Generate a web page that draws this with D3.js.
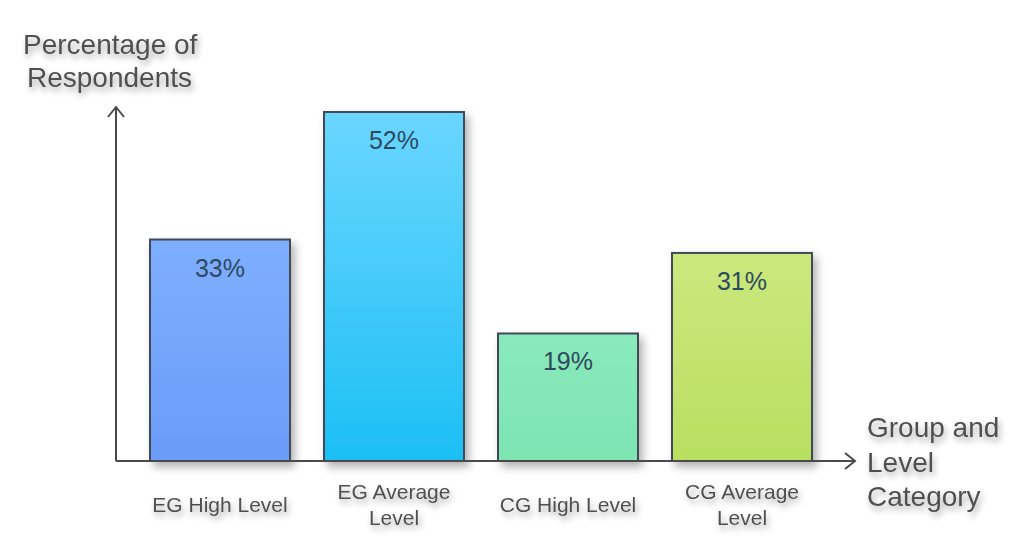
<!DOCTYPE html>
<html><head><meta charset="utf-8">
<script src="https://cdn.jsdelivr.net/npm/d3@7"></script>
<style>html,body{margin:0;padding:0;background:#fff;}svg{display:block;}</style>
</head><body>
<svg id="c" width="1014" height="537"></svg>
<script>
const categories = [["EG High Level"], ["EG Average", "Level"], ["CG High Level"], ["CG Average", "Level"]];
const values = [33, 52, 19, 31];
const valueLabels = ["33%", "52%", "19%", "31%"];
const yTitle = ["Percentage of", "Respondents"];
const xTitle = ["Group and", "Level", "Category"];
const colorTop = ["#7eaeff", "#6ad6ff", "#8aeabc", "#cbe87e"];
const colorBottom = ["#6a9cf8", "#1cbff4", "#7de4b2", "#b9df60"];

const svg = d3.select("#c");
const defs = svg.append("defs");
const sh = defs.append("filter").attr("id","shadow").attr("x","-20%").attr("y","-20%").attr("width","150%").attr("height","150%");
sh.append("feDropShadow").attr("dx",4).attr("dy",5).attr("stdDeviation",4).attr("flood-color","#000").attr("flood-opacity",0.3);
const tsh = defs.append("filter").attr("id","tshadow").attr("x","-10%").attr("y","-30%").attr("width","130%").attr("height","180%");
tsh.append("feDropShadow").attr("dx",2).attr("dy",4).attr("stdDeviation",3).attr("flood-color","#000").attr("flood-opacity",0.35);
values.forEach((v,i)=>{
  const g = defs.append("linearGradient").attr("id","g"+i).attr("x1",0).attr("y1",0).attr("x2",0).attr("y2",1);
  g.append("stop").attr("offset","0%").attr("stop-color",colorTop[i]);
  g.append("stop").attr("offset","100%").attr("stop-color",colorBottom[i]);
});

const x = d3.scaleBand().domain(d3.range(values.length)).range([150, 812]).paddingInner(34/174).paddingOuter(0);
const y = d3.scaleLinear().domain([0, 52]).range([461, 112]);

// bars
svg.append("g").selectAll("rect").data(values).join("rect")
  .attr("x",(d,i)=>x(i)).attr("y",d=>y(d))
  .attr("width",x.bandwidth()).attr("height",d=>y(0)-y(d))
  .attr("fill",(d,i)=>`url(#g${i})`)
  .attr("stroke","#3f4a55").attr("stroke-width",2)
  .attr("filter","url(#shadow)");

// axes
const ax = svg.append("g").attr("stroke","#4a4a4a").attr("stroke-width",2).attr("fill","none");
ax.append("path").attr("d",`M116,${y(0)} L116,107`);
ax.append("path").attr("d","M108,117 L116,107 L124,117");
ax.append("path").attr("d",`M116,${y(0)} L855,${y(0)}`);
ax.append("path").attr("d",`M845,453 L855,${y(0)} L845,469`);

// value labels
svg.append("g").selectAll("text").data(values).join("text")
  .attr("x",(d,i)=>x(i)+x.bandwidth()/2).attr("y",d=>y(d)+37)
  .attr("text-anchor","middle").attr("font-family","Liberation Sans, Arial, sans-serif")
  .attr("font-size",25).attr("fill","#2e4a5e")
  .text((d,i)=>valueLabels[i]);

// category labels
const cl = svg.append("g").attr("font-family","Liberation Sans, Arial, sans-serif").attr("font-size",21).attr("fill","#505050").attr("text-anchor","middle").attr("filter","url(#tshadow)");
categories.forEach((lines,i)=>{
  const cx = x(i)+x.bandwidth()/2;
  const t = cl.append("text").attr("x",cx).attr("y", lines.length===1 ? 512 : 499);
  lines.forEach((l,j)=>t.append("tspan").attr("x",cx).attr("dy", j===0?0:26).text(l));
});

// axis titles
const tt = svg.append("g").attr("font-family","Liberation Sans, Arial, sans-serif").attr("font-size",28).attr("fill","#505050").attr("filter","url(#tshadow)");
const yt = tt.append("text").attr("x",23).attr("y",54);
yTitle.forEach((l,j)=>yt.append("tspan").attr("x", j===0?23:27).attr("dy", j===0?0:33).text(l));
const xt = tt.append("text").attr("x",867).attr("y",437);
xTitle.forEach((l,j)=>xt.append("tspan").attr("x",867).attr("dy", j===0?0:34.5).text(l));
</script>
</body></html>
